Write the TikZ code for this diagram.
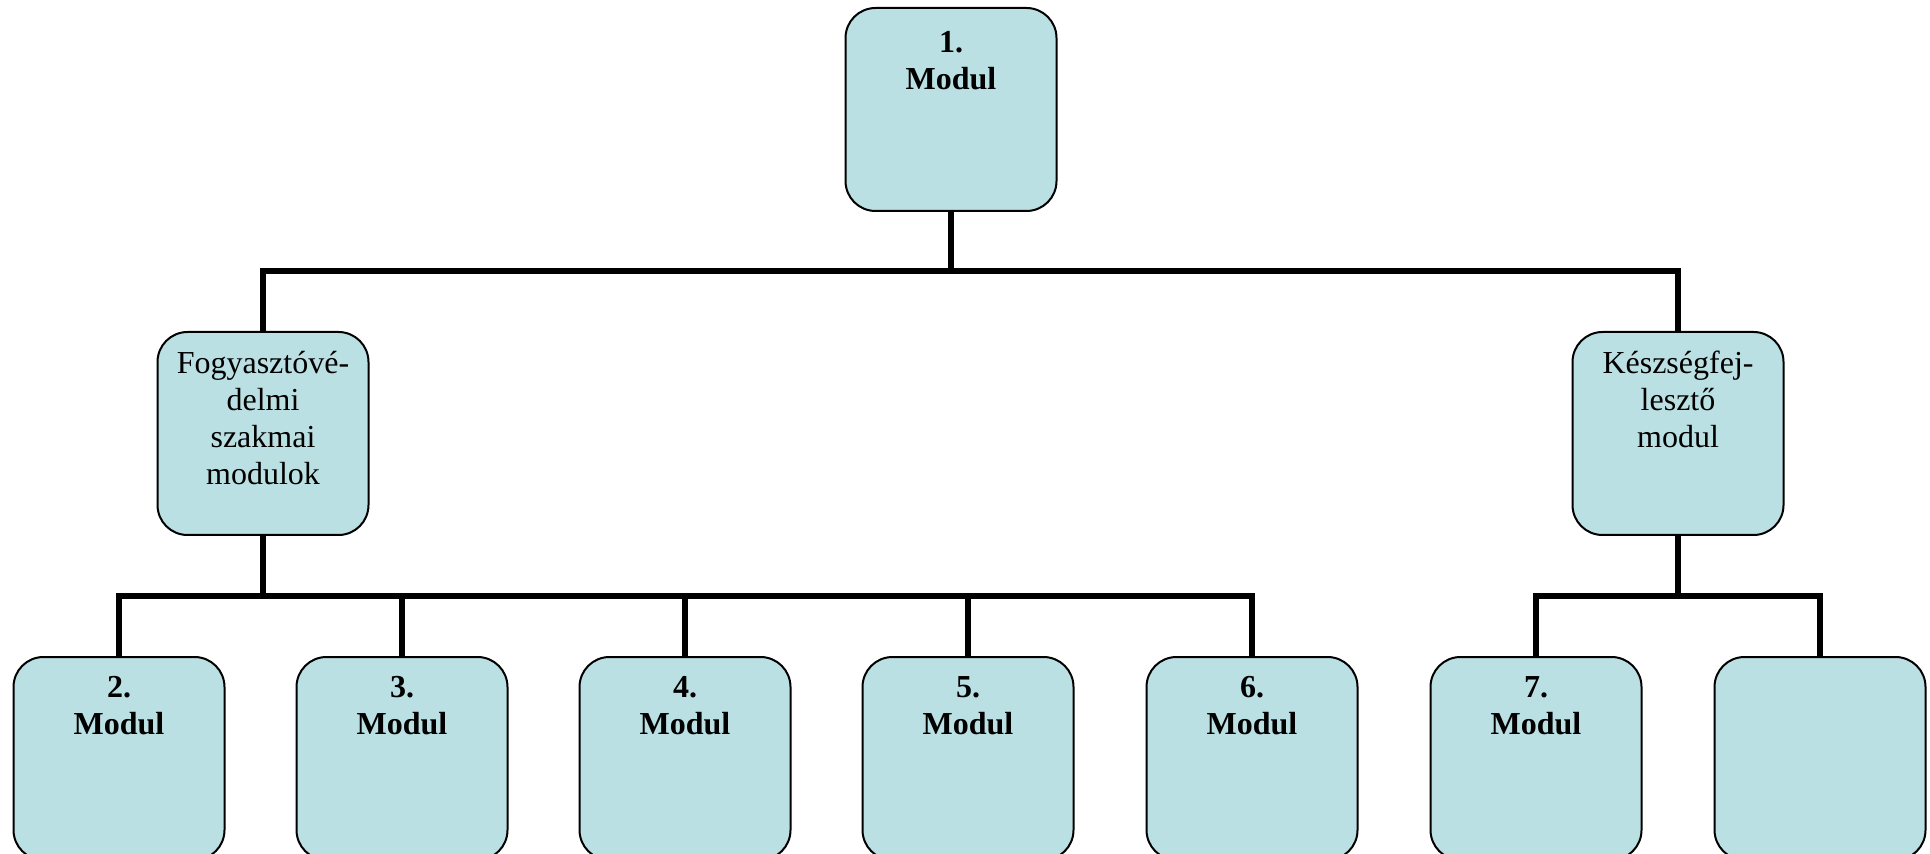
\documentclass[tikz,border=0pt]{standalone}
\usepackage{fontspec}
\setmainfont{Liberation Serif}
\definecolor{modfill}{HTML}{BBE0E3}
\begin{document}
\begin{tikzpicture}[x=0.5pt,y=-0.5pt]
    \tikzstyle{box} = [rectangle, rounded corners=15pt, minimum width=105.5pt, minimum height=101.5pt, inner sep=0pt, draw=black, line width=1pt, fill=modfill]
    \tikzstyle{boxtext} = [anchor=north, yshift=-10pt, inner sep=0pt, align=center, font=\fontsize{16}{18.5}\selectfont]
    \tikzstyle{modtext} = [boxtext, font=\fontsize{16}{18.5}\selectfont\bfseries]
    \tikzstyle{bus} = [line width=3pt]

    \clip (0,0) rectangle (1930,854);

    % Boxes
    \node (m1) [box] at (951,109.5) {};
    \node (fog) [box] at (263,433.5) {};
    \node (kesz) [box] at (1678,433.5) {};
    \node (m2) [box] at (119,758.5) {};
    \node (m3) [box] at (402,758.5) {};
    \node (m4) [box] at (685,758.5) {};
    \node (m5) [box] at (968,758.5) {};
    \node (m6) [box] at (1252,758.5) {};
    \node (m7) [box] at (1536,758.5) {};
    \node (m8) [box] at (1820,758.5) {};

    % Texts
    \node (m1t) [modtext, yshift=-2pt] at (m1.north) {1.\\Modul};
    \node (fogt) [boxtext] at (fog.north) {Fogyasztóvé-\\delmi\\szakmai\\modulok};
    \node (keszt) [boxtext] at (kesz.north) {Készségfej-\\lesztő\\modul};
    \node (m2t) [modtext] at (m2.north) {2.\\Modul};
    \node (m3t) [modtext] at (m3.north) {3.\\Modul};
    \node (m4t) [modtext] at (m4.north) {4.\\Modul};
    \node (m5t) [modtext] at (m5.north) {5.\\Modul};
    \node (m6t) [modtext] at (m6.north) {6.\\Modul};
    \node (m7t) [modtext] at (m7.north) {7.\\Modul};

    % Lines
    \coordinate (bus1) at (951,271);
    \coordinate (bus2) at (263,596);
    \coordinate (bus3) at (1678,596);
    \draw [bus] (m1.south) -- (bus1) -| (fog.north);
    \draw [bus] (bus1) -| (kesz.north);
    \draw [bus] (fog.south) -- (bus2) -| (m2.north);
    \draw [bus] (bus2) -| (m3.north);
    \draw [bus] (bus2) -| (m4.north);
    \draw [bus] (bus2) -| (m5.north);
    \draw [bus] (bus2) -| (m6.north);
    \draw [bus] (kesz.south) -- (bus3) -| (m7.north);
    \draw [bus] (bus3) -| (m8.north);
\end{tikzpicture}
\end{document}
